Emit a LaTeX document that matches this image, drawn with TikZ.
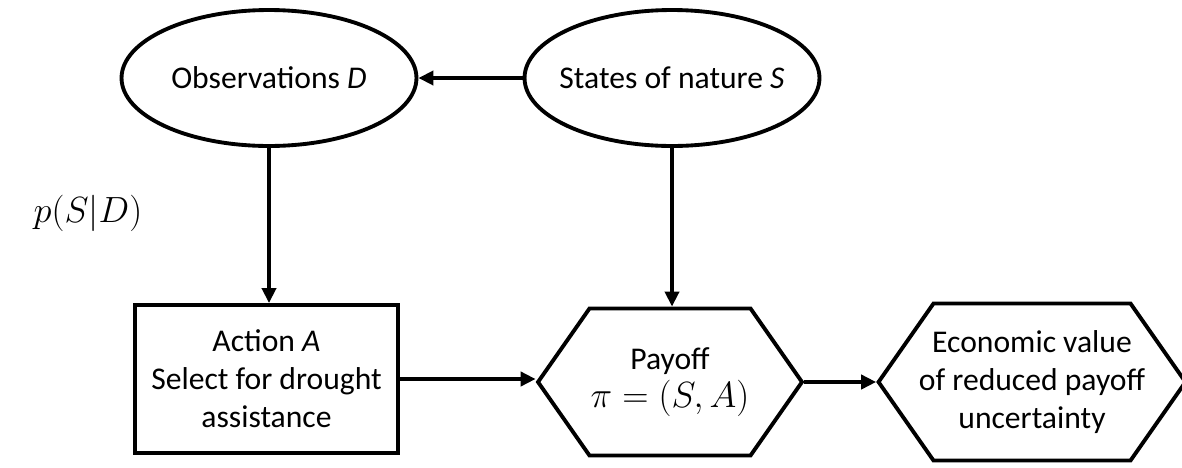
\documentclass[tikz,border=0pt]{standalone}
\usepackage{fontspec}
\setmainfont{Carlito}
\usepackage{tikz}
\usetikzlibrary{positioning, shapes.geometric, shapes.symbols, arrows.meta}

\begin{document}
\begin{tikzpicture}[
    x=0.02cm, y=-0.02cm,
    every node/.style = {font=\fontsize{18}{21.6}\selectfont},
    belief/.style     = {ellipse, draw=black, line width=2.2pt,
                         minimum width=5.9cm, minimum height=2.72cm,
                         inner xsep=-14pt, inner ysep=0pt, align=center},
    decision/.style   = {rectangle, draw=black, line width=2.2pt,
                         minimum width=5.26cm, minimum height=2.96cm,
                         inner sep=2pt, align=center},
    outcome/.style    = {signal, signal to=west and east, signal pointer angle=110,
                         draw=black, line width=2.2pt, inner xsep=-14pt,
                         inner ysep=2pt, align=center},
    conn/.style       = {line width=2.2pt, draw=black,
                         -{Triangle[length=0.3cm, width=0.28cm]}},
    lbl/.style        = {align=center, font=\fontsize{22}{26}\selectfont},
]

%% ============================================================
%% CANVAS
%% ============================================================
\useasboundingbox (0,0) rectangle (1182,467);

%% ============================================================
%% NODES
%% ============================================================
\node[belief]   (obs)    at (269, 78)   {Observations \textit{D}};
\node[belief]   (nature) at (672, 78)   {States of nature \textit{S}};
\node[decision] (action) at (266.5, 379) {Action \textit{A}\\Select for drought\\assistance};
\node[outcome, minimum width=5.28cm, minimum height=2.94cm]
                (payoff) at (670, 382)  {Payoff\\{\fontsize{22}{21.6}\selectfont$\pi=(S,A)$}};
\node[outcome, minimum width=6.14cm, minimum height=3.14cm]
                (value)  at (1032, 382) {Economic value\\of reduced payoff\\uncertainty};

%% ============================================================
%% CONNECTIONS
%% ============================================================
\draw[conn] (nature.west) -- (obs.east);
\draw[conn] (obs.south)   -- (obs.south |- action.north);
\draw[conn] (nature.south) -- (nature.south |- payoff.north);
\draw[conn] (action.east) -- (action.east -| payoff.west);
\draw[conn] (payoff.east) -- (value.west);

%% ============================================================
%% ANNOTATIONS
%% ============================================================
\node[lbl] (cond) at (88, 213) {$p(S|D)$};

\end{tikzpicture}
\end{document}
